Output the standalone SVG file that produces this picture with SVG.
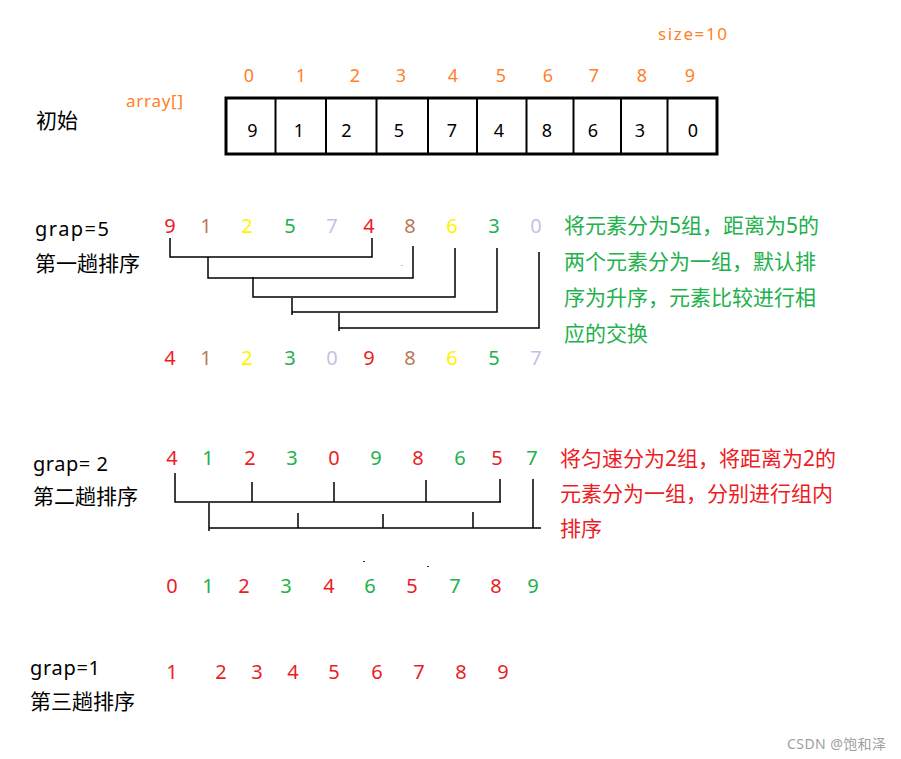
<svg xmlns="http://www.w3.org/2000/svg" width="901" height="759" viewBox="0 0 901 759">
<style>
text{font-family:"Noto Sans","Noto Sans CJK SC",sans-serif}
.cjk{font-family:"Noto Sans CJK SC",sans-serif;font-size:21px}
.lbl{font-size:20px;fill:#000}
.d{font-size:20px;text-anchor:middle}
.idx{font-size:18px;text-anchor:middle;fill:#ff7f27}
.v{font-size:18px;text-anchor:middle;fill:#000}
.r{fill:#ed1c24}.b{fill:#b97a57}.y{fill:#fff200}.g{fill:#22b14c}.l{fill:#c8bfe7}
.ln{fill:none;stroke:#000;stroke-width:1.5}
</style>
<rect width="901" height="759" fill="#fff"/>

<g id="initial">
  <text x="658" y="40" font-size="17" fill="#ff7f27" textLength="69" lengthAdjust="spacing">size=10</text>
  <text class="idx" x="249" y="82">0</text>
  <text class="idx" x="301" y="82">1</text>
  <text class="idx" x="355" y="82">2</text>
  <text class="idx" x="401" y="82">3</text>
  <text class="idx" x="453" y="82">4</text>
  <text class="idx" x="501" y="82">5</text>
  <text class="idx" x="548" y="82">6</text>
  <text class="idx" x="594" y="82">7</text>
  <text class="idx" x="642" y="82">8</text>
  <text class="idx" x="690" y="82">9</text>
  <text x="126" y="107" font-size="17" fill="#ff7f27" textLength="57" lengthAdjust="spacing">array[]</text>
  <text class="cjk" x="36" y="128">初始</text>
  <rect x="226" y="98" width="491" height="56" fill="none" stroke="#000" stroke-width="3"/>
  <path d="M275.5,98V154M326,98V154M376.5,98V154M428,98V154M477,98V154M526.5,98V154M573.5,98V154M621,98V154M667.5,98V154" stroke="#000" stroke-width="2"/>
  <text class="v" x="252.5" y="137">9</text>
  <text class="v" x="299" y="137">1</text>
  <text class="v" x="346.5" y="137">2</text>
  <text class="v" x="399" y="137">5</text>
  <text class="v" x="452" y="137">7</text>
  <text class="v" x="499" y="137">4</text>
  <text class="v" x="547" y="137">8</text>
  <text class="v" x="593" y="137">6</text>
  <text class="v" x="640" y="137">3</text>
  <text class="v" x="693" y="137">0</text>
</g>

<g id="pass1">
  <text class="lbl" x="35" y="236" textLength="74" lengthAdjust="spacing">grap=5</text>
  <text class="cjk" x="35" y="271">第一趟排序</text>
  <text class="d r" x="170" y="233">9</text>
  <text class="d b" x="206" y="233">1</text>
  <text class="d y" x="247" y="233">2</text>
  <text class="d g" x="290" y="233">5</text>
  <text class="d l" x="332" y="233">7</text>
  <text class="d r" x="369" y="233">4</text>
  <text class="d b" x="410" y="233">8</text>
  <text class="d y" x="452" y="233">6</text>
  <text class="d g" x="494" y="233">3</text>
  <text class="d l" x="536" y="233">0</text>
  <text class="d r" x="170" y="365">4</text>
  <text class="d b" x="206" y="365">1</text>
  <text class="d y" x="247" y="365">2</text>
  <text class="d g" x="290" y="365">3</text>
  <text class="d l" x="332" y="365">0</text>
  <text class="d r" x="369" y="365">9</text>
  <text class="d b" x="410" y="365">8</text>
  <text class="d y" x="452" y="365">6</text>
  <text class="d g" x="494" y="365">5</text>
  <text class="d l" x="536" y="365">7</text>
  <g class="cjk" fill="#22b14c">
    <text x="564" y="233">将元素分为5组，距离为5的</text>
    <text x="564" y="269">两个元素分为一组，默认排</text>
    <text x="564" y="305">序为升序，元素比较进行相</text>
    <text x="564" y="341">应的交换</text>
  </g>
</g>

<g id="pass2">
  <text class="lbl" x="33" y="471" textLength="75" lengthAdjust="spacing">grap= 2</text>
  <text class="cjk" x="33" y="504">第二趟排序</text>
  <text class="d r" x="172" y="465">4</text>
  <text class="d g" x="208" y="465">1</text>
  <text class="d r" x="250" y="465">2</text>
  <text class="d g" x="292" y="465">3</text>
  <text class="d r" x="334" y="465">0</text>
  <text class="d g" x="376" y="465">9</text>
  <text class="d r" x="418" y="465">8</text>
  <text class="d g" x="460" y="465">6</text>
  <text class="d r" x="497" y="465">5</text>
  <text class="d g" x="532" y="465">7</text>
  <text class="d r" x="172" y="593">0</text>
  <text class="d g" x="208" y="593">1</text>
  <text class="d r" x="244" y="593">2</text>
  <text class="d g" x="286" y="593">3</text>
  <text class="d r" x="329" y="593">4</text>
  <text class="d g" x="370" y="593">6</text>
  <text class="d r" x="412" y="593">5</text>
  <text class="d g" x="455" y="593">7</text>
  <text class="d r" x="496" y="593">8</text>
  <text class="d g" x="533" y="593">9</text>
  <g class="cjk" fill="#ed1c24">
    <text x="560" y="466">将匀速分为2组，将距离为2的</text>
    <text x="560" y="501">元素分为一组，分别进行组内</text>
    <text x="560" y="536">排序</text>
  </g>
</g>

<g id="pass3">
  <text class="lbl" x="30" y="675" textLength="70" lengthAdjust="spacing">grap=1</text>
  <text class="cjk" x="30" y="709">第三趟排序</text>
  <text class="d r" x="172" y="679">1</text>
  <text class="d r" x="221" y="679">2</text>
  <text class="d r" x="257" y="679">3</text>
  <text class="d r" x="293" y="679">4</text>
  <text class="d r" x="334" y="679">5</text>
  <text class="d r" x="377" y="679">6</text>
  <text class="d r" x="419" y="679">7</text>
  <text class="d r" x="461" y="679">8</text>
  <text class="d r" x="503" y="679">9</text>
</g>

<g id="connectors">
  <path class="ln" d="M170,238V257H372V238"/>
  <path class="ln" d="M208,257V278H413V246"/>
  <path class="ln" d="M253,277V297H455V248"/>
  <path class="ln" d="M292,298V315M292,312H497V248"/>
  <path class="ln" d="M339,313V331M339,328H539V252"/>
  <path class="ln" d="M175,473V502H501M252,482V502M334,482V502M426,480V502M500,479V502"/>
  <path class="ln" d="M209,503V531M209,528H541M298,513V528M383,514V528M473,512V528M533,479V528"/>
  <rect x="401" y="265" width="2" height="1" fill="#bbb"/>
  <rect x="363" y="561" width="2" height="1" fill="#333"/>
  <rect x="427" y="566" width="2" height="1" fill="#333"/>
</g>

<text x="787" y="749" font-size="14" fill="#a0a0a0" textLength="99" lengthAdjust="spacing">CSDN @饱和泽</text>
</svg>
